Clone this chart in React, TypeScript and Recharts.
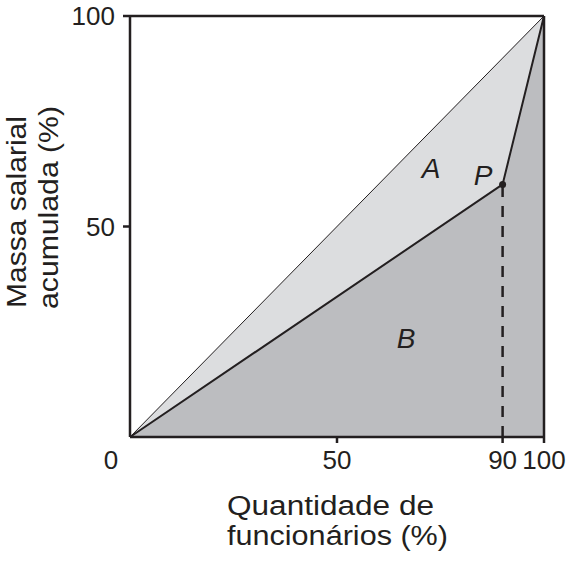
import React from 'react';
import { ComposedChart, Area, Line, XAxis, YAxis, ReferenceLine, ReferenceDot, Label } from 'recharts';

// Curva de Lorenz: quantidade de funcionários x massa salarial acumulada
const funcionarios = [0, 90, 100];
const massaSalarial = [0, 60, 100];
const igualdade = [0, 90, 100];

const xTicks = [0, 50, 90, 100];
const yTicks = [50, 100];

const ponto = { x: 90, y: 60 };

const data = funcionarios.map((f, i) => ({
  x: f,
  massa: massaSalarial[i],
  igual: igualdade[i],
}));

const INK = '#231f20';
const FONT = '"Liberation Sans", Arial, sans-serif';

const XTick = (props: any) => {
  const { x, y, payload } = props;
  const v = payload.value;
  return (
    <g>
      {v !== 0 && <line x1={x} x2={x} y1={y} y2={y + 6} stroke={INK} strokeWidth={2.5} />}
      <text x={v === 0 ? x - 19 : x} y={y + 32} textAnchor="middle" fontSize={26} fill={INK} fontFamily={FONT}>
        {v}
      </text>
    </g>
  );
};

// the original lettering is a little wider than Arial, so stretch to the measured lengths
const YTitle = () => (
  <g fontSize={27} fill={INK} fontFamily={FONT}>
    <text x={26} y={308} transform="rotate(-90, 26, 308)" textLength={192} lengthAdjust="spacingAndGlyphs">
      Massa salarial
    </text>
    <text x={58} y={309} transform="rotate(-90, 58, 309)" textLength={203} lengthAdjust="spacingAndGlyphs">
      acumulada (%)
    </text>
  </g>
);

const XTitle = () => (
  <g fontSize={27} fill={INK} fontFamily={FONT}>
    <text x={227} y={515} textLength={207} lengthAdjust="spacingAndGlyphs">Quantidade de</text>
    <text x={227} y={545} textLength={221} lengthAdjust="spacingAndGlyphs">funcionários (%)</text>
  </g>
);

const letra = (value: string) => ({
  value,
  position: 'center' as const,
  fontSize: 28,
  fontStyle: 'italic',
  fill: INK,
  fontFamily: FONT,
});

export default function App() {
  return (
    <div style={{ position: 'absolute', left: 0, top: 0, width: 572, height: 562, background: '#fff' }}>
      <ComposedChart width={572} height={562} data={data} margin={{ top: 16, right: 28, bottom: 95, left: 0 }}>
        <XAxis
          dataKey="x"
          type="number"
          domain={[0, 100]}
          ticks={xTicks}
          interval={0}
          height={30}
          tickSize={0}
          tickMargin={0}
          tickLine={false}
          axisLine={{ stroke: INK, strokeWidth: 2.5 }}
          tick={<XTick />}
        >
          <Label content={<XTitle />} />
        </XAxis>
        <YAxis
          type="number"
          domain={[0, 100]}
          ticks={yTicks}
          interval={0}
          width={130}
          tickSize={7}
          tickMargin={8}
          tickLine={{ stroke: INK, strokeWidth: 2.5 }}
          axisLine={{ stroke: INK, strokeWidth: 2.5 }}
          tick={{ fill: INK, fontSize: 26, fontFamily: FONT }}
        >
          <Label content={<YTitle />} />
        </YAxis>
        <Area type="linear" dataKey="igual" fill="#dcdddf" fillOpacity={1} stroke="none" isAnimationActive={false} activeDot={false} />
        <Area type="linear" dataKey="massa" fill="#bcbdc0" fillOpacity={1} stroke="none" isAnimationActive={false} activeDot={false} />
        <Line type="linear" dataKey="igual" stroke={INK} strokeWidth={1} dot={false} activeDot={false} isAnimationActive={false} />
        <Line type="linear" dataKey="massa" stroke={INK} strokeWidth={2} dot={false} activeDot={false} isAnimationActive={false} />
        <ReferenceLine
          segment={[{ x: ponto.x, y: 0 }, { x: ponto.x, y: ponto.y }]}
          stroke={INK}
          strokeWidth={2.5}
          strokeDasharray="11 9"
        />
        <ReferenceLine y={100} stroke={INK} strokeWidth={2.5} />
        <ReferenceLine x={100} stroke={INK} strokeWidth={2.5} />
        <ReferenceDot x={ponto.x} y={ponto.y} r={3.5} fill={INK} stroke="none" />
        <ReferenceDot x={72.7} y={63.9} r={0} stroke="none" label={letra('A')} />
        <ReferenceDot x={85.3} y={62.2} r={0} stroke="none" label={letra('P')} />
        <ReferenceDot x={66.7} y={23.5} r={0} stroke="none" label={letra('B')} />
      </ComposedChart>
    </div>
  );
}
